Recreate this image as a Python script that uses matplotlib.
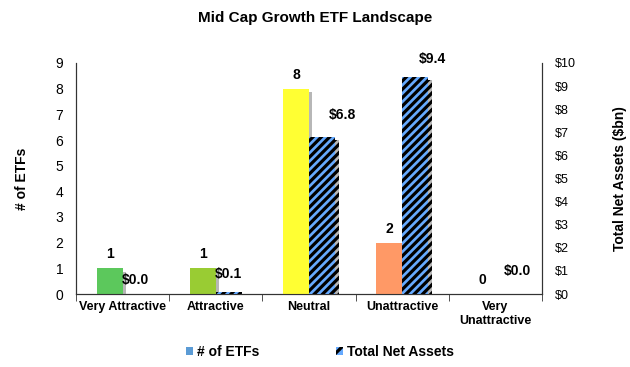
import matplotlib
matplotlib.use("Agg")
import matplotlib.pyplot as plt
import matplotlib.patheffects as pe
from matplotlib.patches import Patch
import numpy as np

categories = ["Very Attractive", "Attractive", "Neutral", "Unattractive", "Very\nUnattractive"]
num_etfs = [1, 1, 8, 2, 0]
tna = [0.0, 0.1, 6.8, 9.4, 0.0]
etf_labels = ["1", "1", "8", "2", "0"]
tna_labels = ["$0.0", "$0.1", "$6.8", "$9.4", "$0.0"]
bar_colors = ["#5CC85C", "#99CC33", "#FFFF33", "#FF9966", "#BBBBBB"]
tna_color = "#66AAFF"
# label offsets (pixels) for the TNA data labels
tna_label_offsets = [(0, 14), (0, 18), (20, 22), (17, 18), (9, 23)]

plt.rcParams['font.family'] = ['Liberation Sans', 'DejaVu Sans']
plt.rcParams['hatch.linewidth'] = 2.3
plt.rcParams['hatch.color'] = 'black'

fig = plt.figure(figsize=(6.3, 3.67), dpi=100)
ax = fig.add_axes([76/630, 1-294/367, (542-76)/630, (294-63)/367])
ax2 = ax.twinx()

x = np.arange(len(categories))
w = 0.28
shadow = [pe.SimplePatchShadow(offset=(2.5, -2.5), shadow_rgbFace='#888888', alpha=0.6), pe.Normal()]

b1 = ax.bar(x - w/2, num_etfs, width=w, color=bar_colors, edgecolor='none', zorder=3)
for b in b1:
    b.set_path_effects(shadow)
b2 = ax2.bar(x + w/2, tna, width=w, color=tna_color, edgecolor='black', linewidth=0, hatch='////', zorder=3)
for b in b2:
    b.set_path_effects(shadow)

px = 0.72  # points per pixel at 100 dpi
for xi, v, lab in zip(x, num_etfs, etf_labels):
    ax.annotate(lab, (xi - w/2, v), xytext=(0, 14*px), textcoords='offset points',
                ha='center', va='center', fontsize=10, fontweight='bold')
for xi, v, lab, (dx, dy) in zip(x, tna, tna_labels, tna_label_offsets):
    ax2.annotate(lab, (xi + w/2, v), xytext=(dx*px, dy*px), textcoords='offset points',
                 ha='center', va='center', fontsize=10, fontweight='bold')

ax.set_xlim(-0.5, len(categories) - 0.5)
ax.set_ylim(0, 9)
ax2.set_ylim(0, 10)
ax.set_yticks(range(0, 10))
ax.set_yticklabels([str(i) for i in range(0, 10)], fontsize=10)
ax2.set_yticks(range(0, 11))
ax2.set_yticklabels([f"${i}" for i in range(0, 11)], fontsize=9)

ax.set_xticks(x)
ax.set_xticklabels(categories, fontsize=9, fontweight='bold', va='top')
ax.tick_params(axis='x', length=0, pad=5)
ax.set_xticks(np.arange(-0.5, len(categories), 1), minor=True)
ax.tick_params(axis='x', which='minor', length=5, direction='out', color='#333333')
ax.tick_params(axis='y', length=0, pad=9)
ax2.tick_params(axis='y', length=0, pad=9)

for a in (ax, ax2):
    a.spines['top'].set_visible(False)
    for s in ('left', 'right', 'bottom'):
        a.spines[s].set_color('#333333')

ax.set_ylabel("# of ETFs", fontsize=10, fontweight='bold', labelpad=19)
ax2.set_ylabel("Total Net Assets ($bn)", fontsize=10, fontweight='bold', labelpad=27)

fig.text(0.5, 1-18/367, "Mid Cap Growth ETF Landscape", ha='center', va='center',
         fontsize=11, fontweight='bold')

handles = [Patch(facecolor='#5B9BD5', edgecolor='none', label='# of ETFs'),
           Patch(facecolor=tna_color, edgecolor='black', linewidth=0, hatch='///', label='Total Net Assets')]
fig.legend(handles=handles, loc='center', bbox_to_anchor=(320/630, 1-352/367), ncol=2, frameon=False,
           prop={'weight': 'bold', 'size': 10}, handlelength=0.5, handleheight=0.5,
           columnspacing=5.5, handletextpad=0.3)

fig.savefig("out.png", dpi=100)
